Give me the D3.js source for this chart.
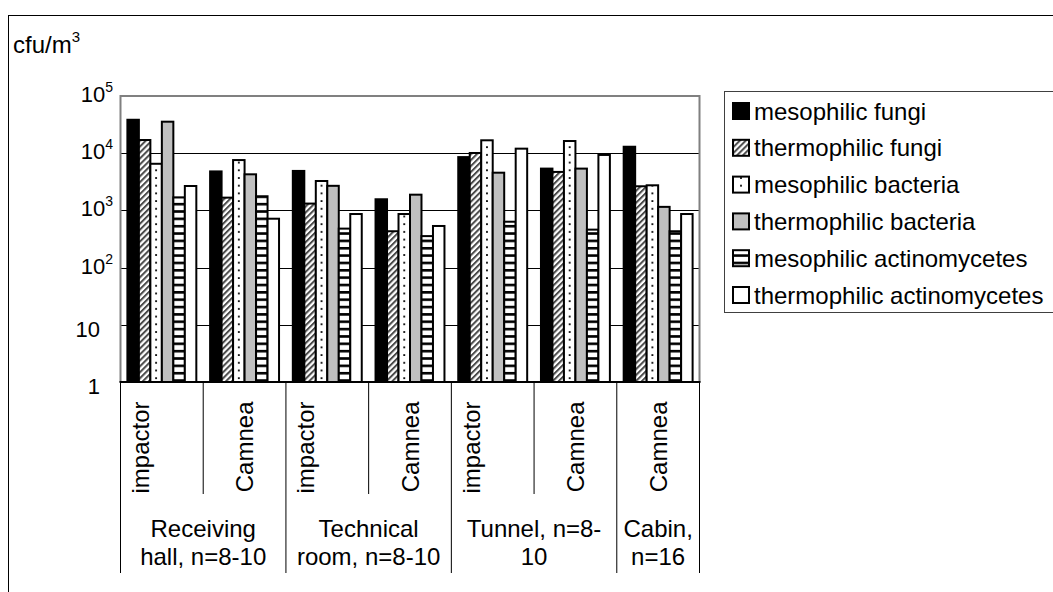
<!DOCTYPE html>
<html>
<head>
<meta charset="utf-8">
<script src="https://cdn.jsdelivr.net/npm/d3@7"></script>
<style>
  html, body { margin: 0; padding: 0; background: #fff; }
  svg { display: block; font-family: "Liberation Sans", Arial, sans-serif; }
</style>
</head>
<body>
<svg id="chart" width="1053" height="592"></svg>
<script>
// Sampling sites (x categories) and the sampler used at each
const samplers = ["impactor", "Camnea", "impactor", "Camnea", "impactor", "Camnea", "Camnea"];
const siteLines = [["Receiving", "hall, n=8-10"], ["Technical", "room, n=8-10"], ["Tunnel, n=8-", "10"], ["Cabin,", "n=16"]];
const siteSpans = [2, 2, 2, 1];

// Series names (legend order)
const seriesNames = ["mesophilic fungi", "thermophilic fungi", "mesophilic bacteria",
                     "thermophilic bacteria", "mesophilic actinomycetes", "thermophilic actinomycetes"];

// Concentrations, cfu/m3, one value per sampler column
const mesophilicFungi        = [40000, 5000, 5100, 1630, 8900, 5600, 13500];
const thermophilicFungi      = [17700, 1740, 1370, 450, 10500, 4900, 2750];
const mesophilicBacteria     = [6800, 7900, 3400, 900, 17500, 17000, 2860];
const thermophilicBacteria   = [37000, 4450, 2800, 1960, 4750, 5600, 1200];
const mesophilicActinomyc    = [1760, 1840, 500, 370, 660, 480, 450];
const thermophilicActinomyc  = [2780, 745, 900, 556, 12500, 9700, 900];
const seriesValues = [mesophilicFungi, thermophilicFungi, mesophilicBacteria,
                      thermophilicBacteria, mesophilicActinomyc, thermophilicActinomyc];

// Y axis ticks: value, base text and exponent
const yTickValues = [1, 10, 100, 1000, 10000, 100000];
const yTickBase   = ["1", "10", "10", "10", "10", "10"];
const yTickExp    = ["", "", "2", "3", "4", "5"];

const svg = d3.select("#chart");
const FONT = 24;

const plot = { left: 120.5, right: 699.5, top: 96, bottom: 382 };

const x0 = d3.scaleBand().domain(d3.range(samplers.length)).range([plot.left, plot.right]).padding(0);
const x1 = d3.scaleBand().domain(d3.range(seriesNames.length)).range([0, x0.bandwidth()])
  .paddingInner(0).paddingOuter(0.6);
const y = d3.scaleLog().domain([1, 100000]).range([plot.bottom, plot.top]);

// outer chart frame
svg.append("rect").attr("x", 8.5).attr("y", 15.5).attr("width", 1100).attr("height", 700)
  .attr("fill", "none").attr("stroke", "#000").attr("stroke-width", 1);

// fills: solid, hatch, dots, horizontal lines
const defs = svg.append("defs");
const hatch = defs.append("pattern").attr("id", "hatch").attr("patternUnits", "userSpaceOnUse")
  .attr("width", 4.2).attr("height", 4.2).attr("patternTransform", "rotate(45)");
hatch.append("rect").attr("width", 4.2).attr("height", 4.2).attr("fill", "#fff");
hatch.append("rect").attr("width", 2).attr("height", 4.2).attr("fill", "#4a4a4a");

const hlines = defs.append("pattern").attr("id", "hlines").attr("patternUnits", "userSpaceOnUse")
  .attr("width", 10).attr("height", 7.35).attr("y", plot.bottom);
hlines.append("rect").attr("width", 10).attr("height", 7.35).attr("fill", "#fff");
hlines.append("rect").attr("y", 4.6).attr("width", 10).attr("height", 2.6).attr("fill", "#000");

function dotPattern(id, x0pos, w) {
  const p = defs.append("pattern").attr("id", id).attr("patternUnits", "userSpaceOnUse")
    .attr("x", x0pos).attr("y", plot.bottom).attr("width", w).attr("height", 7.7);
  p.append("rect").attr("width", w).attr("height", 7.7).attr("fill", "#fff");
  p.append("rect").attr("x", w / 2 - 0.9).attr("y", 3).attr("width", 1.8).attr("height", 1.8).attr("fill", "#000");
  return `url(#${id})`;
}

const baseFills = ["#000", "url(#hatch)", null, "#c0c0c0", "url(#hlines)", "#fff"];
function fillFor(s, c, bx, bw) {
  if (s === 2) return dotPattern(`dots-${c}`, bx, bw);
  return baseFills[s];
}

// gridlines
svg.append("g").selectAll("line").data(yTickValues.filter(v => v > 1 && v < 100000)).join("line")
  .attr("x1", plot.left).attr("x2", plot.right)
  .attr("y1", d => Math.round(y(d)) + 0.5).attr("y2", d => Math.round(y(d)) + 0.5)
  .attr("stroke", "#000").attr("stroke-width", 1);

// bars
const bars = [];
seriesValues.forEach((vals, s) => vals.forEach((v, c) => bars.push({ s, c, v })));
svg.append("g").selectAll("rect").data(bars).join("rect")
  .attr("x", d => x0(d.c) + x1(d.s))
  .attr("y", d => y(d.v) + 1)
  .attr("width", x1.bandwidth())
  .attr("height", d => plot.bottom - y(d.v) - 1)
  .attr("fill", d => fillFor(d.s, d.c, x0(d.c) + x1(d.s), x1.bandwidth()))
  .attr("stroke", "#000").attr("stroke-width", 2);

// plot frame (grey) and category axis line
svg.append("path")
  .attr("d", `M${plot.left},${plot.bottom}V${plot.top}H${plot.right}V${plot.bottom}`)
  .attr("fill", "none").attr("stroke", "#808080").attr("stroke-width", 2);
svg.append("line").attr("x1", plot.left - 1).attr("x2", plot.right + 1)
  .attr("y1", plot.bottom).attr("y2", plot.bottom).attr("stroke", "#000").attr("stroke-width", 2);

// y labels
const yl = svg.append("g").attr("font-size", 22);
yTickValues.forEach((v, i) => {
  const t = yl.append("text").attr("text-anchor", "end")
    .attr("x", yTickExp[i] ? 113 : 100).attr("y", y(v) + (yTickExp[i] ? 6 : 12));
  t.append("tspan").text(yTickBase[i]);
  if (yTickExp[i]) t.append("tspan").attr("font-size", 14).attr("dy", -10).text(yTickExp[i]);
});

// unit label
const unit = svg.append("text").attr("x", 13).attr("y", 53).attr("font-size", FONT);
unit.append("tspan").text("cfu/m");
unit.append("tspan").attr("font-size", 15).attr("dy", -11).text("3");

// category separators
const bounds = d3.range(samplers.length + 1);
const groupEnds = new Set(d3.cumsum([0, ...siteSpans]));
svg.append("g").selectAll("line").data(bounds).join("line")
  .attr("x1", i => (i < samplers.length ? x0(i) : plot.right))
  .attr("x2", i => (i < samplers.length ? x0(i) : plot.right))
  .attr("y1", plot.bottom).attr("y2", i => groupEnds.has(i) ? 573 : 494)
  .attr("stroke", "#000").attr("stroke-width", 1);

// sampler labels (rotated)
const baselineShift = { impactor: -13, Camnea: 8.5 };
svg.append("g").attr("font-size", FONT).selectAll("text").data(samplers).join("text")
  .attr("text-anchor", "end")
  .attr("transform", (d, i) => `translate(${x0(i) + x0.bandwidth() / 2 + baselineShift[d]},401.5) rotate(-90)`)
  .text(d => d);

// site labels
let start = 0;
siteLines.forEach((lines, g) => {
  const cx = (x0(start) + x0(start + siteSpans[g] - 1) + x0.bandwidth()) / 2;
  lines.forEach((ln, k) => {
    svg.append("text").attr("font-size", FONT).attr("text-anchor", "middle")
      .attr("x", cx).attr("y", 537 + k * 28).text(ln);
  });
  start += siteSpans[g];
});

// legend
const lg = svg.append("g");
lg.append("rect").attr("x", 724.5).attr("y", 91.5).attr("width", 400).attr("height", 221)
  .attr("fill", "#fff").attr("stroke", "#404040").attr("stroke-width", 1);
seriesNames.forEach((name, i) => {
  const cy = 111 + i * 36.8;
  const fill = i === 2 ? dotPattern("dots-legend", 733, 16) : baseFills[i];
  lg.append("rect").attr("x", 733).attr("y", cy - 8).attr("width", 16).attr("height", 16)
    .attr("fill", fill).attr("stroke", "#000").attr("stroke-width", 2);
  lg.append("text").attr("x", 754).attr("y", cy + 8.5).attr("font-size", FONT).text(name);
});
</script>
</body>
</html>
